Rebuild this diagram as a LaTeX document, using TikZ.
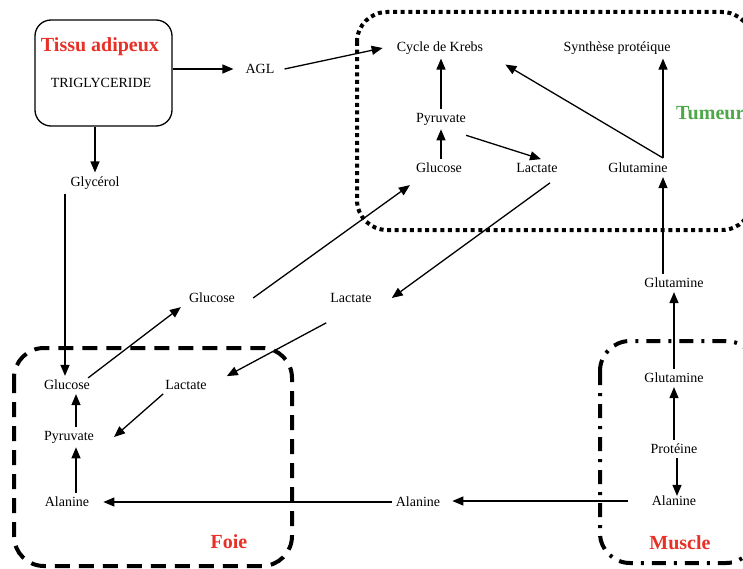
\documentclass[tikz,border=0pt]{standalone}
\usepackage{fontspec}
\setmainfont{Liberation Serif}
\usetikzlibrary{arrows.meta, positioning, calc}
\definecolor{organred}{RGB}{232,48,38}
\definecolor{tumgreen}{RGB}{78,168,74}

\begin{document}
\begin{tikzpicture}[x=1pt, y=-1pt,
  lbl/.style={font=\fontsize{14}{16}\selectfont, inner sep=4pt},
  organ/.style={font=\fontsize{20}{22}\selectfont\bfseries, text=organred, inner sep=0pt},
  arr/.style={-{Triangle[length=11pt,width=9pt]}, line width=1.3pt},
  tumbox/.style={line width=4pt, dash pattern=on 4pt off 3.6pt, rounded corners=30pt},
  foiebox/.style={line width=4pt, dash pattern=on 15pt off 9pt, rounded corners=30pt},
  musclebox/.style={line width=4pt, dash pattern=on 14pt off 8pt on 3pt off 8pt, rounded corners=30pt}]
  \useasboundingbox (0,0) rectangle (743,569);

  % compartments
  \draw[tumbox] (357,12) rectangle (752,230);
  \draw[foiebox] (14,348) rectangle (292,566);
  \draw[musclebox] (600,341) rectangle (756,563);
  \node[draw, rounded corners=16pt, line width=1.3pt, minimum width=137pt, minimum height=106pt] (adip) at (103.5,73) {};

  % organ titles
  \node[organ] (adiptitle) at (100,47) {Tissu adipeux};
  \node[organ, text=tumgreen, anchor=west] (tumeur) at (676,113) {Tumeur};
  \node[organ] (foie) at (229,542) {Foie};
  \node[organ] (muscle) at (680,543) {Muscle};

  % metabolites
  \node[lbl] (trig) at (101,83) {TRIGLYCERIDE};
  \node[lbl] (agl) at (260,69) {AGL};
  \node[lbl] (glyc) at (95,183) {Glycérol};
  \node[lbl] (krebs) at (440,48) {Cycle de Krebs};
  \node[lbl] (synth) at (617,48) {Synthèse protéique};
  \node[lbl] (pyrT) at (441,119) {Pyruvate};
  \node[lbl] (glcT) at (439,168) {Glucose};
  \node[lbl] (lacT) at (537,168) {Lactate};
  \node[lbl] (glnT) at (638,168) {Glutamine};
  \coordinate (fork) at (663,158);
  \node[lbl] (glcM) at (212,298) {Glucose};
  \node[lbl] (lacM) at (351,298) {Lactate};
  \node[lbl] (glcF) at (67,385) {Glucose};
  \node[lbl] (lacF) at (186,385) {Lactate};
  \node[lbl] (pyrF) at (69,437) {Pyruvate};
  \node[lbl] (alaF) at (67,502) {Alanine};
  \node[lbl] (alaM) at (418,502) {Alanine};
  \node[lbl] (glnTop) at (674,283) {Glutamine};
  \node[lbl] (glnMu) at (674,378) {Glutamine};
  \node[lbl] (prot) at (674,449) {Protéine};
  \node[lbl] (alaMu) at (674,501) {Alanine};

  % flows
  \draw[arr] ([yshift=4pt]adip.east) -- ([xshift=-8pt]agl.west);
  \draw[arr] ([xshift=6pt]agl.east) -- ([xshift=-10pt]krebs.west);
  \draw[arr] (adip.south -| glyc) -- (glyc.north);
  \draw[arr] ([xshift=-30pt]glyc.south) -- ([xshift=-2pt]glcF.north);
  \draw[arr] (pyrT.north) -- (pyrT.north |- krebs.south);
  \draw[arr] (glcT.north -| pyrT) -- (pyrT.south);
  \draw[arr] ([xshift=-4pt,yshift=-6pt]pyrT.south east) -- ([xshift=4pt]lacT.north);
  \draw[arr] (fork) -- ($(krebs.south east)+(18,6)$);
  \draw[arr] (fork) -- (fork |- synth.south);
  \draw[arr] (glnTop.north -| fork) -- (fork |- glnT.south);
  \draw[arr] ([xshift=14pt]glcM.east) -- ([xshift=-2pt,yshift=-8pt]glcT.south west);
  \draw[arr] ([xshift=13pt,yshift=-6pt]lacT.south) -- ([xshift=16pt]lacM.east);
  \draw[arr] ([yshift=-16pt]lacM.south west) -- ([xshift=16pt]lacF.north east);
  \draw[arr] ([xshift=-6pt,yshift=-2pt]glcF.north east) -- ([xshift=-4pt]glcM.south west);
  \draw[arr] ([xshift=7pt]pyrF.north) -- ([xshift=7pt]pyrF.north |- glcF.south);
  \draw[arr] ([xshift=9pt]alaF.north) -- ([xshift=9pt]alaF.north |- pyrF.south);
  \draw[arr] ([xshift=2pt]lacF.south west) -- ([xshift=16pt]pyrF.east);
  \draw[arr] (alaM.west) -- ([xshift=10pt]alaF.east);
  \draw[arr] ([xshift=-20pt]alaMu.west) -- ([xshift=8pt]alaMu.west -| alaM.east);
  \draw[arr] ([xshift=3pt]prot.south) -- ([xshift=3pt,yshift=-4pt]alaMu.north);
  \draw[arr] (prot.north) -- (glnMu.south);
  \draw[arr] (glnMu.north) -- (glnTop.south);
\end{tikzpicture}
\end{document}
